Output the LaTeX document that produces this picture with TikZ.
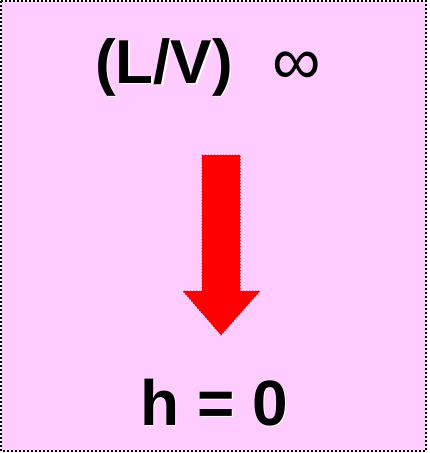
\documentclass[tikz,border=0pt]{standalone}
\usepackage{fontspec}
\setmainfont{Liberation Sans}
\usetikzlibrary{positioning}
\definecolor{panelpink}{RGB}{255,204,255}
\definecolor{arrowred}{RGB}{255,0,0}

\begin{document}
\begin{tikzpicture}[
  x=1pt, y=-1pt,
  panel/.style={
    draw=black,
    fill=panelpink,
    line width=2pt,
    dash pattern=on 2pt off 2pt
  },
  bigtext/.style={
    inner sep=0pt,
    anchor=base,
    font=\fontsize{62}{66}\selectfont\bfseries
  },
  shadow/.style={white, xshift=1.5pt, yshift=-1.5pt},
  downarr/.style={
    draw=arrowred,
    fill=arrowred,
    line width=1pt,
    dotted
  }
]
\useasboundingbox (0,0) rectangle (429,453);
\path[panel] (1,1) rectangle (426,451);

% Title line
\node[bigtext, shadow] at (164,83) {(L/V)};
\node[bigtext] (lv) at (164,83) {(L/V)};
\node[inner sep=0pt, anchor=base west, font=\fontsize{68}{72}\selectfont]
  (inf) at (272,84) {∞};

% Arrow
\draw[downarr] (202,155) -- (240,155) -- (240,291) -- (260,291)
  -- (221,335) -- (183,291) -- (202,291) -- cycle;

% Result
\node[bigtext, shadow, font=\fontsize{64}{68}\selectfont\bfseries] at (214,425) {h = 0};
\node[bigtext, font=\fontsize{64}{68}\selectfont\bfseries] (res) at (214,425) {h = 0};

\end{tikzpicture}
\end{document}
